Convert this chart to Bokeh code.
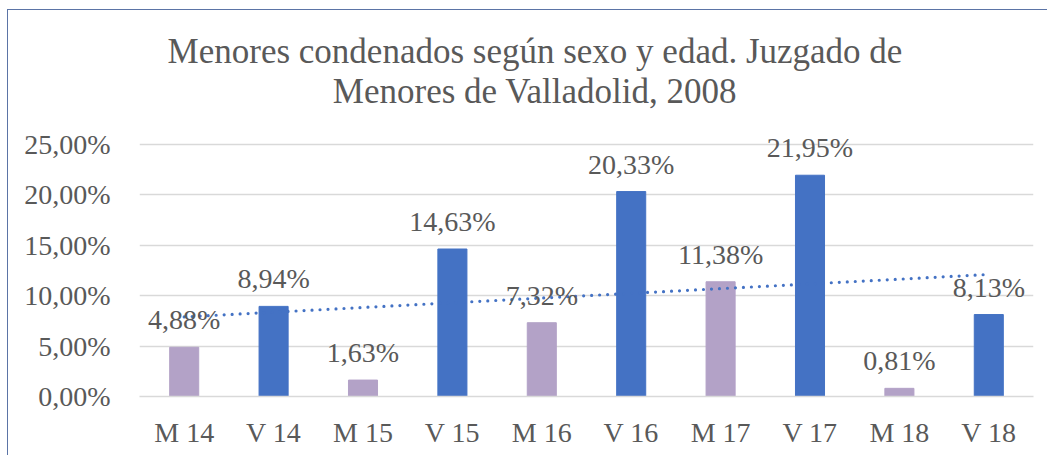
import numpy as np
from bokeh.plotting import figure
from bokeh.models import ColumnDataSource, LabelSet, FixedTicker, Label
from bokeh.embed import file_html
from bokeh.resources import INLINE

# ---- data ----
categories = ["M 14", "V 14", "M 15", "V 15", "M 16", "V 16", "M 17", "V 17", "M 18", "V 18"]
sexes = ["M", "V", "M", "V", "M", "V", "M", "V", "M", "V"]
values = [4.88, 8.94, 1.63, 14.63, 7.32, 20.33, 11.38, 21.95, 0.81, 8.13]
y_ticks = [0, 5, 10, 15, 20, 25]
y_tick_labels = ["0,00%", "5,00%", "10,00%", "15,00%", "20,00%", "25,00%"]
title_line1 = "Menores condenados según sexo y edad. Juzgado de"
title_line2 = "Menores de Valladolid, 2008"

COLORS = {"M": "#B3A2C7", "V": "#4472C4"}
FONT = "Liberation Serif"
TXT = "#595959"

labels = [f"{v:.2f}".replace(".", ",") + "%" for v in values]
src = ColumnDataSource(dict(cat=categories, val=values, lab=labels,
                            color=[COLORS[s] for s in sexes]))

# the frame also covers the title area; only 0..25 % is ticked / gridded
p = figure(x_range=categories, y_range=(0, 38.29), width=1040, height=446,
           output_backend="svg", toolbar_location=None, title=None,
           min_border_left=131, min_border_right=15, min_border_top=0,
           min_border_bottom=60)
p.styles = {"margin-left": "8px", "margin-top": "10px",
            "box-shadow": "-1px -1px 0 0 #5B74A6"}
p.outline_line_color = None

# title: two centred lines placed in screen units (from frame bottom-left)
for txt, yy in ((title_line1, 345), (title_line2, 305)):
    p.add_layout(Label(x=395.5, y=yy, x_units="screen", y_units="screen",
                       text=txt, text_align="center", text_baseline="alphabetic",
                       text_font=FONT, text_font_size="35px", text_color=TXT))

p.vbar(x="cat", top="val", width=0.325, color="color", source=src)

# linear trend line (least squares on category index)
xi = np.arange(1, len(values) + 1)
slope, intercept = np.polyfit(xi, values, 1)
p.line(x=[categories[0], categories[-1]],
       y=[intercept + slope * xi[0], intercept + slope * xi[-1]],
       line_color="#4472C4", line_width=3.2, line_dash="0 8", line_cap="round")

p.add_layout(LabelSet(x="cat", y="val", text="lab", source=src, y_offset=18,
                      text_align="center", text_baseline="alphabetic",
                      text_font=FONT, text_font_size="28px", text_color=TXT))

p.xgrid.grid_line_color = None
p.ygrid.grid_line_color = "#D9D9D9"
p.ygrid.grid_line_width = 1.3
p.yaxis.ticker = FixedTicker(ticks=y_ticks)
p.yaxis.major_label_overrides = {t: l for t, l in zip(y_ticks, y_tick_labels)}
p.yaxis.axis_line_color = None
p.yaxis.major_tick_line_color = None
p.yaxis.major_tick_out = 0
p.yaxis.minor_tick_line_color = None
p.yaxis.major_label_standoff = 29
p.xaxis.axis_line_color = "#D9D9D9"
p.xaxis.axis_line_width = 1.3
p.xaxis.major_tick_line_color = None
p.xaxis.major_tick_out = 0
p.xaxis.major_label_standoff = 20
for ax in (p.xaxis, p.yaxis):
    ax.major_label_text_font = FONT
    ax.major_label_text_font_size = "28px"
    ax.major_label_text_color = TXT
p.x_range.range_padding = 0
p.background_fill_color = "white"
p.border_fill_color = "white"

open("out.html", "w").write(file_html(p, INLINE))
